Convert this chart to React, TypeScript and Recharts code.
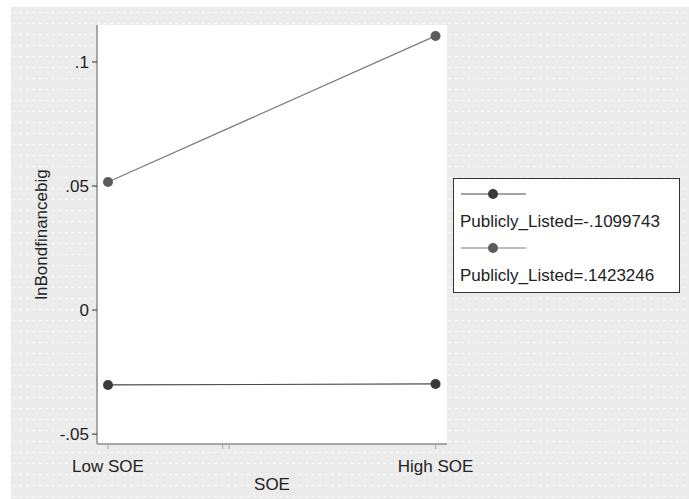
import { LineChart, Line, XAxis, YAxis, CartesianGrid, Legend } from "recharts";

// values
const categories = ["Low SOE", "High SOE"];
const soeX = [0, 1];
const minorTicks = [0.35, 0.37];
const listedLow = [-0.0302, -0.0298];
const listedHigh = [0.0516, 0.1105];
const yTicks = [-0.05, 0, 0.05, 0.1];
const seriesNames = ["Publicly_Listed=-.1099743", "Publicly_Listed=.1423246"];

const FONT = "'Liberation Sans', Arial, Helvetica, sans-serif";
const LINE_COLORS = ["#4a4a4a", "#7a7a7a"];
const DOT_COLORS = ["#3a3a3a", "#5c5c5c"];

const data = soeX.map((x, i) => ({ x, low: listedLow[i], high: listedHigh[i] }));

const fmtY = (v: number) => {
  if (v === 0) return "0";
  return String(v).replace("0.", ".");
};

const fmtX = (v: number) => {
  const i = soeX.indexOf(v);
  return i >= 0 ? categories[i] : "";
};

function LegendBox() {
  return (
    <div
      style={{
        width: 227,
        height: 115,
        border: "1px solid #333",
        background: "#fff",
        fontFamily: FONT,
        fontSize: 17,
        color: "#222",
        boxSizing: "border-box",
        padding: "5px 0 0 6px",
      }}
    >
      {seriesNames.map((name, i) => (
        <div key={name}>
          <svg width={70} height={20} style={{ display: "block" }}>
            <line x1={1} y1={10} x2={66} y2={10} stroke={LINE_COLORS[i]} strokeWidth={1.2} />
            <circle cx={33} cy={10} r={5} fill={DOT_COLORS[i]} />
          </svg>
          <div style={{ lineHeight: "36px", height: 34, whiteSpace: "nowrap" }}>{name}</div>
        </div>
      ))}
    </div>
  );
}

export default function App() {
  return (
    <div
      style={{
        position: "absolute",
        left: 11,
        top: 7,
        width: 678,
        height: 492,
        backgroundColor: "#ebebeb",
        backgroundImage: "radial-gradient(circle, #fafafa 0.8px, transparent 1.2px)",
        backgroundSize: "6.5px 11px",
      }}
    >
      <LineChart
        width={678}
        height={492}
        data={data}
        margin={{ top: 18, right: 242, bottom: 0, left: 0 }}
        style={{ fontFamily: FONT }}
      >
        <CartesianGrid horizontal={false} vertical={false} fill="#ffffff" />
        <XAxis
          type="number"
          dataKey="x"
          domain={[-0.0336, 1.035]}
          ticks={[soeX[0], ...minorTicks, soeX[1]]}
          tickFormatter={fmtX}
          interval={0}
          height={55}
          stroke="#8c8c8c"
          strokeWidth={1.5}
          tickSize={5}
          tickMargin={11}
          tick={{ fill: "#222", fontSize: 17 }}
          tickLine={{ stroke: "#a8a8a8", strokeWidth: 1 }}
          label={{ value: "SOE", position: "center", dy: 12, fill: "#222", fontSize: 17 }}
        />
        <YAxis
          type="number"
          domain={[-0.054, 0.1149]}
          ticks={yTicks}
          tickFormatter={fmtY}
          interval={0}
          width={86}
          stroke="#8c8c8c"
          strokeWidth={1.5}
          tickSize={5}
          tickMargin={3}
          tick={{ fill: "#222", fontSize: 17 }}
          tickLine={{ stroke: "#333", strokeWidth: 1 }}
          label={{
            value: "lnBondfinancebig",
            angle: -90,
            position: "center",
            dx: -13,
            fill: "#222",
            fontSize: 17,
          }}
        />
        <Legend
          layout="vertical"
          align="center"
          verticalAlign="middle"
          content={() => <LegendBox />}
          wrapperStyle={{ left: 442, top: 171, width: 227 }}
        />
        <Line
          dataKey="low"
          name={seriesNames[0]}
          stroke={LINE_COLORS[0]}
          strokeWidth={1.2}
          dot={{ r: 5, fill: DOT_COLORS[0], stroke: "none" }}
          isAnimationActive={false}
        />
        <Line
          dataKey="high"
          name={seriesNames[1]}
          stroke={LINE_COLORS[1]}
          strokeWidth={1.2}
          dot={{ r: 5, fill: DOT_COLORS[1], stroke: "none" }}
          isAnimationActive={false}
        />
      </LineChart>
    </div>
  );
}
